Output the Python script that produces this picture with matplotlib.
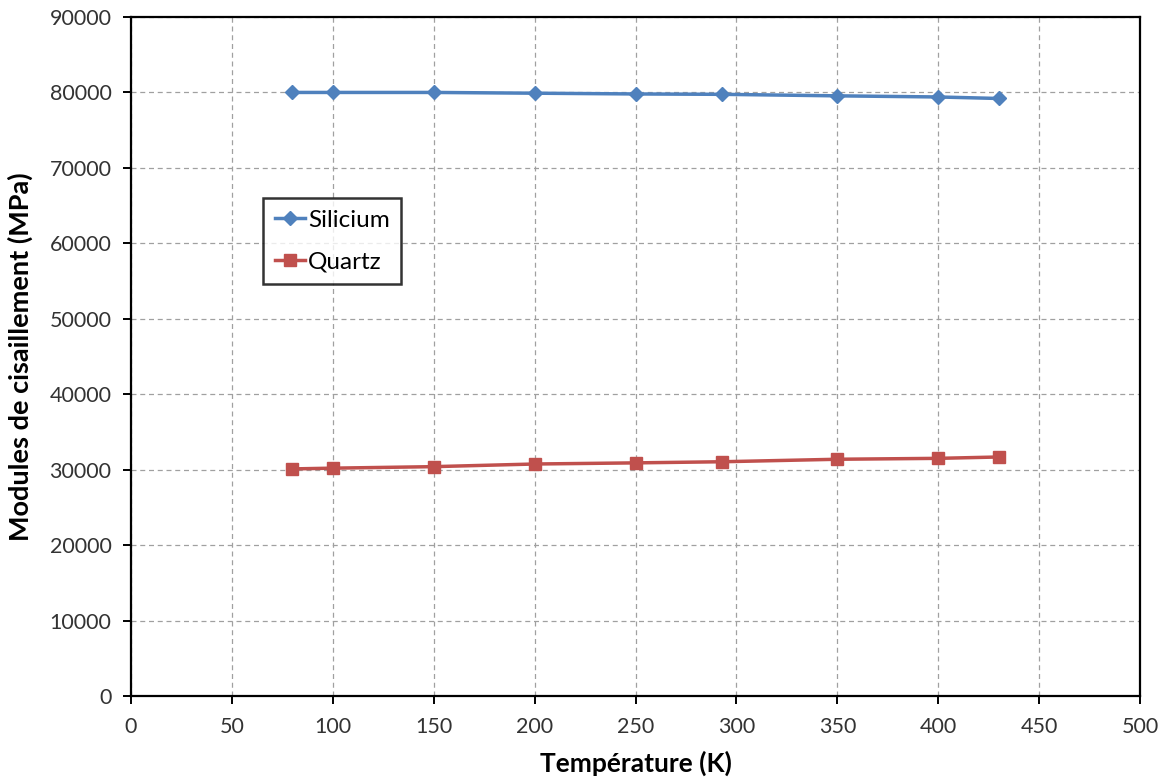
import matplotlib
matplotlib.use("Agg")
import matplotlib.pyplot as plt

temperature = [80, 100, 150, 200, 250, 293, 350, 400, 430]
silicium = [80000, 80000, 80000, 79900, 79800, 79750, 79550, 79400, 79200]
quartz = [30100, 30200, 30400, 30750, 30900, 31050, 31380, 31500, 31680]

plt.rcParams['font.family'] = ['Lato', 'DejaVu Sans']

fig = plt.figure(figsize=(11.66, 7.8), dpi=100)
ax = fig.add_axes([131/1166, 1-696/780, (1140-131)/1166, (696-17)/780])

ax.plot(temperature, silicium, color='#4F81BD', lw=2.5, marker='D', ms=7, label='Silicium')
ax.plot(temperature, quartz, color='#C0504D', lw=2.5, marker='s', ms=9, label='Quartz')

ax.set_xlim(0, 500)
ax.set_ylim(0, 90000)
ax.set_xticks(range(0, 501, 50))
ax.set_yticks(range(0, 90001, 10000))
ax.grid(True, color='#a0a0a0', ls=(0, (4, 3)), lw=0.9)
ax.set_axisbelow(True)
for s in ax.spines.values():
    s.set_color('black')
    s.set_linewidth(1.6)
ax.tick_params(direction='out', length=6, width=1.4, labelsize=15.5, labelcolor='#333333')
ax.tick_params(axis='x', pad=9)
ax.tick_params(axis='y', pad=8)

ax.set_xlabel('Température (K)', fontsize=19, fontweight='bold')
ax.xaxis.set_label_coords(0.5, -0.081)
ax.set_ylabel('Modules de cisaillement (MPa)', fontsize=19.5, fontweight='bold')
ax.yaxis.set_label_coords(-0.097, 0.5)

leg = ax.legend(loc='upper left', bbox_to_anchor=(263/1166, 1-198/780), bbox_transform=fig.transFigure,
                fancybox=False, frameon=True, edgecolor='black', fontsize=17.5, handlelength=1.25,
                labelspacing=0.85, borderpad=0.48, handletextpad=0.12, borderaxespad=0)
leg.get_frame().set_linewidth(1.8)

fig.savefig('out.png', dpi=100)
